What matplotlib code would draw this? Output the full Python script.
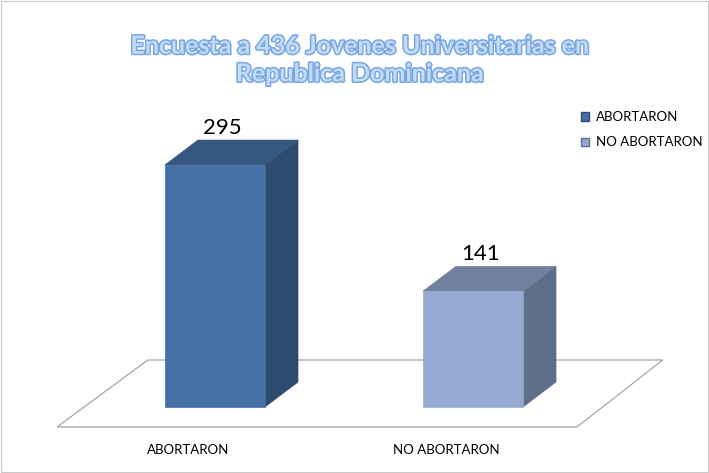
import matplotlib.pyplot as plt
import matplotlib.patheffects as pe
from matplotlib.patches import Polygon, Patch

# datos
categorias = ["ABORTARON", "NO ABORTARON"]
valores = [295, 141]
colores_frente = ["#4470a6", "#95a9d1"]
colores_lado = ["#2d4a6f", "#5e6e88"]
colores_tope = ["#36577f", "#7081a0"]
titulo = "Encuesta a 436 Jovenes Universitarias en\nRepublica Dominicana"

fig = plt.figure(figsize=(7.09, 4.73), dpi=100)
ax = fig.add_axes([0, 0, 1, 1])
ax.set_xlim(-0.833, 1.915)
ax.set_ylim(-80.5, 496.3)
ax.axis("off")

# borde de la figura
fig.patches.append(plt.Rectangle((0.002, 0.002), 0.996, 0.996, transform=fig.transFigure,
                                 fill=False, edgecolor="#c8c8c8", lw=0.8))

# piso 3D
piso = Polygon([(-0.612, -24.4), (1.403, -24.4), (1.736, 57.3), (-0.26, 57.3)],
               closed=True, facecolor="white", edgecolor="#a6a6a6", lw=0.9, zorder=1)
ax.add_patch(piso)

ancho = 0.388
dx = 0.128
dy = 30.5
for i, v in enumerate(valores):
    x0 = i - ancho / 2
    x1 = i + ancho / 2
    # cara lateral
    lado = Polygon([(x1, 0), (x1 + dx, dy), (x1 + dx, v + dy), (x1, v)],
                   closed=True, facecolor=colores_lado[i], edgecolor=colores_lado[i],
                   lw=0.5, zorder=2)
    ax.add_patch(lado)
    # tope
    tope = Polygon([(x0, v), (x1, v), (x1 + dx, v + dy), (x0 + dx, v + dy)],
                   closed=True, facecolor=colores_tope[i], edgecolor=colores_tope[i],
                   lw=0.5, zorder=2)
    ax.add_patch(tope)
    ax.bar(i, v, width=ancho, color=colores_frente[i], edgecolor=colores_frente[i],
           lw=0.5, zorder=3)
    ax.text(i + 0.03, v + dy + 3, str(v), ha="center", va="bottom",
            fontsize=16, family="Lato", color="black")
    ax.text(i - 0.105, -52, categorias[i], ha="center", va="center",
            fontsize=9.5, family="Lato", color="black")

# titulo
fig.text(0.508, 0.873, titulo, ha="center", va="center", fontsize=18,
         family="Lato", weight="bold", color="#c2dbf7", linespacing=1.25,
         path_effects=[pe.withStroke(linewidth=2.2, foreground="#7aa7e0")])

# leyenda
handles = [Patch(facecolor=colores_frente[i], edgecolor=colores_lado[i], label=categorias[i])
           for i in range(len(categorias))]
fig.legend(handles=handles, loc="upper left", bbox_to_anchor=(0.803, 0.79),
           frameon=False, prop={"family": "Lato", "size": 9.5},
           handlelength=0.6, handleheight=0.6, handletextpad=0.5, labelspacing=1.0)

fig.savefig("out.png", dpi=100)
